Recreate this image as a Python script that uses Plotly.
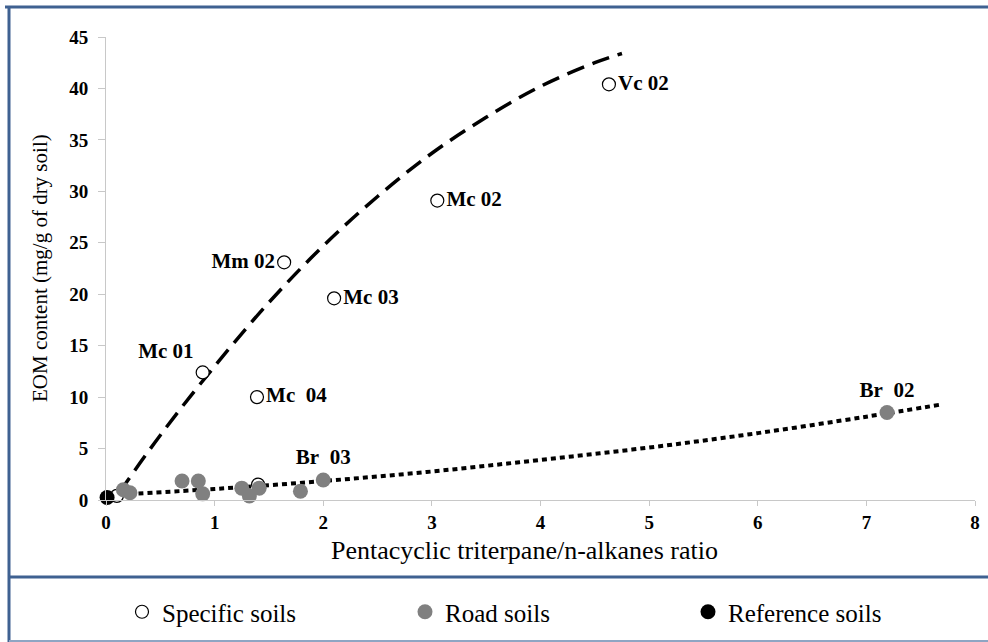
import plotly.graph_objects as go

# ---- data ----
spec_x = [4.63, 3.05, 1.64, 2.10, 0.89, 1.39, 0.10, 1.40]
spec_y = [40.4, 29.1, 23.1, 19.6, 12.4, 10.0, 0.4, 1.5]
spec_lbl = ["Vc 02", "Mc 02", "Mm 02", "Mc 03", "Mc 01", "Mc\u00a0 04", "", ""]
spec_pos = ["middle right", "middle right", "middle left", "middle right",
            "top left", "middle right", "middle right", "middle right"]

road_x = [0.16, 0.22, 0.70, 0.85, 0.89, 1.25, 1.32, 1.41, 1.79, 2.00, 7.19]
road_y = [1.0, 0.7, 1.85, 1.85, 0.6, 1.15, 0.4, 1.15, 0.85, 1.95, 8.5]
road_lbl = ["", "", "", "", "", "", "", "", "", "Br\u00a0 03", "Br\u00a0 02"]

ref_x = [0.01]
ref_y = [0.25]

# trend curves
trend_spec_x = [0.12, 0.5, 1.0, 1.5, 2.0, 2.5, 3.0, 3.5, 4.0, 4.5, 4.75]
trend_spec_y = [0.7, 6.3, 13.0, 19.2, 24.7, 29.5, 33.7, 37.2, 40.2, 42.5, 43.4]
trend_road_x = [0.05, 1.0, 2.0, 3.0, 4.0, 5.0, 6.0, 7.0, 7.7]
trend_road_y = [0.5, 1.07, 1.84, 2.77, 3.9, 5.1, 6.5, 8.1, 9.3]

x_ticks = [0, 1, 2, 3, 4, 5, 6, 7, 8]
y_ticks = [0, 5, 10, 15, 20, 25, 30, 35, 40, 45]

SERIF = "Liberation Serif, Times New Roman, serif"
lbl_font = dict(family=SERIF, size=21, color="black", weight="bold")

W, H = 988, 642
X0, X1, Y0, Y1 = 106, 975, 500, 37   # plot area in pixels


def fx(p):
    return p / W


def fy(p):
    return (H - p) / H


fig = go.Figure()

fig.add_trace(go.Scatter(x=trend_spec_x, y=trend_spec_y, mode="lines",
                         line=dict(color="black", width=3.5, dash="18px,9px", shape="spline"),
                         showlegend=False, hoverinfo="skip"))
fig.add_trace(go.Scatter(x=trend_road_x, y=trend_road_y, mode="lines",
                         line=dict(color="black", width=4, dash="5px,4px", shape="spline"),
                         showlegend=False, hoverinfo="skip"))

fig.add_trace(go.Scatter(x=spec_x, y=spec_y, mode="markers+text", name="Specific soils",
                         text=spec_lbl, textposition=spec_pos, textfont=lbl_font,
                         cliponaxis=False,
                         marker=dict(size=13, color="white", line=dict(color="black", width=1.2))))
fig.add_trace(go.Scatter(x=road_x, y=road_y, mode="markers+text", name="Road soils",
                         text=road_lbl, textposition="top center", textfont=lbl_font,
                         cliponaxis=False,
                         marker=dict(size=15, color="#808080", line=dict(width=0))))
fig.add_trace(go.Scatter(x=ref_x, y=ref_y, mode="markers", name="Reference soils",
                         cliponaxis=False,
                         marker=dict(size=15, color="black", line=dict(width=0))))

frame = "#3f6191"
shapes = [
    dict(type="line", xref="paper", yref="paper", x0=fx(5), x1=fx(988), y0=fy(7), y1=fy(7),
         line=dict(color=frame, width=3)),
    dict(type="line", xref="paper", yref="paper", x0=fx(9), x1=fx(9), y0=fy(6), y1=fy(642),
         line=dict(color=frame, width=3)),
    dict(type="line", xref="paper", yref="paper", x0=fx(9), x1=fx(988), y0=fy(577), y1=fy(577),
         line=dict(color=frame, width=3)),
    dict(type="line", xref="paper", yref="paper", x0=fx(9), x1=fx(988), y0=fy(641), y1=fy(641),
         line=dict(color="#8ea5c3", width=2)),
]

annotations = [
    dict(text="Pentacyclic triterpane/n-alkanes ratio", xref="paper", yref="paper",
         x=fx(524), y=fy(550), xanchor="center", yanchor="middle", showarrow=False,
         font=dict(family=SERIF, size=26, color="black")),
    dict(text="EOM content (mg/g of dry soil)", xref="paper", yref="paper",
         x=fx(40), y=fy(268), xanchor="center", yanchor="middle", showarrow=False,
         textangle=-90, font=dict(family=SERIF, size=21, color="black")),
]

fig.update_layout(
    template="none",
    width=W, height=H,
    margin=dict(l=0, r=0, t=0, b=0, autoexpand=False),
    paper_bgcolor="white", plot_bgcolor="white",
    font=dict(family=SERIF, color="black"),
    shapes=shapes,
    annotations=annotations,
    xaxis=dict(domain=[fx(X0), fx(X1)], range=[0, 8], tickvals=x_ticks, showgrid=False,
               zeroline=False, showline=True, linecolor="#c8c8c8", linewidth=1,
               ticks="outside", ticklen=5, tickcolor="#c8c8c8", automargin=False,
               tickfont=dict(family=SERIF, size=19, weight="bold", color="black")),
    yaxis=dict(domain=[fy(Y0), fy(Y1)], range=[0, 45], tickvals=y_ticks, showgrid=False,
               zeroline=False, showline=True, linecolor="#c8c8c8", linewidth=1,
               ticks="outside", ticklen=7, tickcolor="#c8c8c8", automargin=False,
               ticklabelstandoff=6,
               tickfont=dict(family=SERIF, size=19, weight="bold", color="black")),
    legend=dict(orientation="h", x=fx(122), y=fy(612), xanchor="left", yanchor="middle",
                font=dict(family=SERIF, size=25, color="black"), entrywidth=238,
                entrywidthmode="pixels", itemsizing="trace", bgcolor="rgba(0,0,0,0)",
                borderwidth=0),
)

fig.write_html("out.html", config={"displayModeBar": False},
               post_script="document.body.style.margin='0';document.body.style.padding='0';")
